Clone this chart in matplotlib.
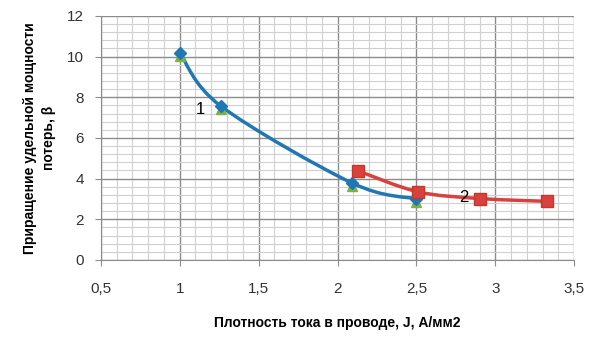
import matplotlib
matplotlib.use("Agg")
import matplotlib.pyplot as plt
import numpy as np
from matplotlib.path import Path
from matplotlib.patches import PathPatch
from matplotlib.ticker import MultipleLocator, FuncFormatter

# series 1 (blue, smoothed) and series 2 (red, smoothed)
j1 = [1.0, 1.26, 2.09, 2.5]
b1 = [10.2, 7.57, 3.79, 3.0]
j2 = [2.13, 2.51, 2.9, 3.33]
b2 = [4.38, 3.35, 3.02, 2.88]


def smooth_path(ax, xs, ys):
    # Excel-style smoothed line: cubic Bezier segments in display space
    pts = ax.transData.transform(np.column_stack([xs, ys]))
    verts = [pts[0]]
    codes = [Path.MOVETO]
    n = len(pts)
    for i in range(n - 1):
        p0 = pts[i - 1] if i > 0 else pts[i]
        p1 = pts[i]
        p2 = pts[i + 1]
        p3 = pts[i + 2] if i + 2 < n else pts[i + 1]
        c1 = p1 + (p2 - p0) / 6.0
        c2 = p2 - (p3 - p1) / 6.0
        verts += [c1, c2, p2]
        codes += [Path.CURVE4] * 3
    return Path(verts, codes)


plt.rcParams["font.family"] = ["Liberation Sans", "DejaVu Sans"]

fig = plt.figure(figsize=(6, 3.47), dpi=100)
ax = fig.add_axes([0.168, 0.251, 0.789, 0.703])
ax.set_xlim(0.5, 3.5)
ax.set_ylim(0, 12)

ax.xaxis.set_major_locator(MultipleLocator(0.5))
ax.xaxis.set_minor_locator(MultipleLocator(0.1))
ax.yaxis.set_major_locator(MultipleLocator(2))
ax.yaxis.set_minor_locator(MultipleLocator(0.4))
ax.grid(which="major", color="#8c8c8c", linewidth=1.0)
ax.grid(which="minor", color="#d0d0d0", linewidth=0.8)
ax.set_axisbelow(True)
ax.tick_params(which="minor", length=0)
ax.tick_params(which="major", length=4, color="#8c8c8c", labelsize=11,
               labelcolor="#333333")
ax.tick_params(axis="x", pad=12)
ax.tick_params(axis="y", pad=8)

fmt = FuncFormatter(lambda v, p: ("%g" % v).replace(".", ","))
ax.xaxis.set_major_formatter(fmt)
ax.yaxis.set_major_formatter(fmt)

for s in ["top", "right"]:
    ax.spines[s].set_visible(False)
ax.spines["left"].set_color("#8c8c8c")
ax.spines["bottom"].set_color("#8c8c8c")

fig.canvas.draw()
ax.add_patch(PathPatch(smooth_path(ax, j1, b1), transform=None,
                       facecolor="none", edgecolor="#1f77b4", linewidth=2.5,
                       zorder=3))
ax.add_patch(PathPatch(smooth_path(ax, j2, b2), transform=None,
                       facecolor="none", edgecolor="#d9413f", linewidth=2.5,
                       zorder=3))

ax.plot(j1, [v - 0.15 for v in b1], linestyle="none", marker="^",
        color="#7cb342", markersize=7, zorder=4)
ax.plot(j1, b1, linestyle="none", marker="D", color="#1f77b4",
        markersize=6, zorder=5)
ax.plot(j2, b2, linestyle="none", marker="s", color="#d9413f",
        markeredgecolor="#c0392b", markersize=9, zorder=5)

ax.text(1.13, 7.4, "1", fontsize=12, ha="center", va="center", zorder=6)
ax.text(2.8, 3.05, "2", fontsize=12, ha="center", va="center", zorder=6)

ax.set_xlabel("Плотность тока в проводе, J, А/мм2", fontsize=10,
              fontweight="bold", labelpad=14)
ax.set_ylabel("Приращение удельной мощности\nпотерь, β", fontsize=10,
              fontweight="bold", labelpad=8, linespacing=1.45)

fig.savefig("out.png", dpi=100)
